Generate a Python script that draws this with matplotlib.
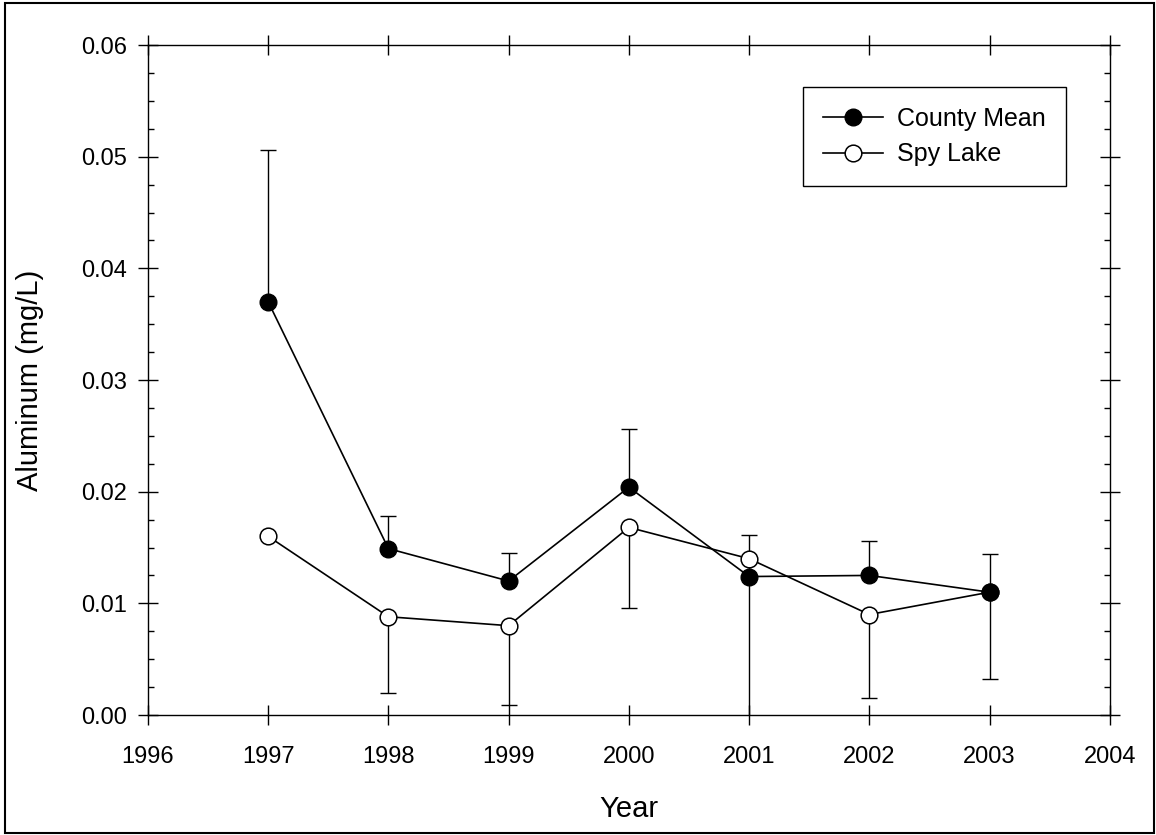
import matplotlib
matplotlib.use("Agg")
import matplotlib.pyplot as plt
from matplotlib.patches import Rectangle

plt.rcParams['font.family'] = ['Liberation Sans', 'DejaVu Sans']

years = [1997, 1998, 1999, 2000, 2001, 2002, 2003]
county_mean = [0.0370, 0.0149, 0.0120, 0.0204, 0.0124, 0.0125, 0.0110]
county_err_up = [0.0136, 0.0029, 0.0025, 0.0052, 0.0037, 0.0031, 0.0034]
spy_lake = [0.0160, 0.0088, 0.0080, 0.0168, 0.0140, 0.0090, 0.0110]
spy_err_down = [0.0, 0.0068, 0.0071, 0.0072, 0.0150, 0.0075, 0.0078]

fig = plt.figure(figsize=(11.56, 8.35), dpi=100)
ax = fig.add_axes([0.128, 0.1437, 0.832, 0.8024])

# error bars: county mean upward, lake downward
ax.errorbar(years, county_mean, yerr=[[0] * len(years), county_err_up], fmt='none',
            ecolor='black', elinewidth=1.0, capsize=6, capthick=1.0, zorder=2)
ax.errorbar(years, spy_lake, yerr=[spy_err_down, [0] * len(years)], fmt='none',
            ecolor='black', elinewidth=1.0, capsize=6, capthick=1.0, zorder=2)

ax.plot(years, county_mean, color='black', lw=1.2, marker='o', markersize=12,
        markerfacecolor='black', markeredgecolor='black', label='County Mean', zorder=4)
ax.plot(years, spy_lake, color='black', lw=1.2, marker='o', markersize=12,
        markerfacecolor='white', markeredgecolor='black', markeredgewidth=1.1,
        label='Spy Lake', zorder=3)

ax.set_xlim(1996, 2004)
ax.set_ylim(0, 0.06)
ax.set_xticks(range(1996, 2005))
ax.set_yticks([0.0, 0.01, 0.02, 0.03, 0.04, 0.05, 0.06])
ax.set_yticklabels(['0.00', '0.01', '0.02', '0.03', '0.04', '0.05', '0.06'])
ax.set_yticks([i * 0.0025 for i in range(25)], minor=True)

ax.tick_params(which='major', direction='inout', length=14, width=1.0,
               top=True, right=True, labelsize=17)
ax.tick_params(axis='x', which='major', pad=15)
ax.tick_params(axis='y', which='major', pad=8)
ax.tick_params(which='minor', direction='in', length=4.5, width=1.0,
               left=True, right=True, bottom=False, top=False)
for s in ax.spines.values():
    s.set_linewidth(1.0)

ax.set_xlabel('Year', fontsize=21, labelpad=20)
ax.set_ylabel('Aluminum (mg/L)', fontsize=21, labelpad=27)

leg = ax.legend(loc='upper right', bbox_to_anchor=(0.954, 0.937), fontsize=18,
                fancybox=False, edgecolor='black', framealpha=1, handlelength=2.4,
                borderpad=0.8, labelspacing=0.45, handletextpad=0.55, borderaxespad=0)
leg.get_frame().set_linewidth(1.0)

fig.patches.append(Rectangle((0.004, 0.002), 0.994, 0.994, transform=fig.transFigure,
                             fill=False, edgecolor='black', lw=1.5))

fig.savefig('out.png', dpi=100)
